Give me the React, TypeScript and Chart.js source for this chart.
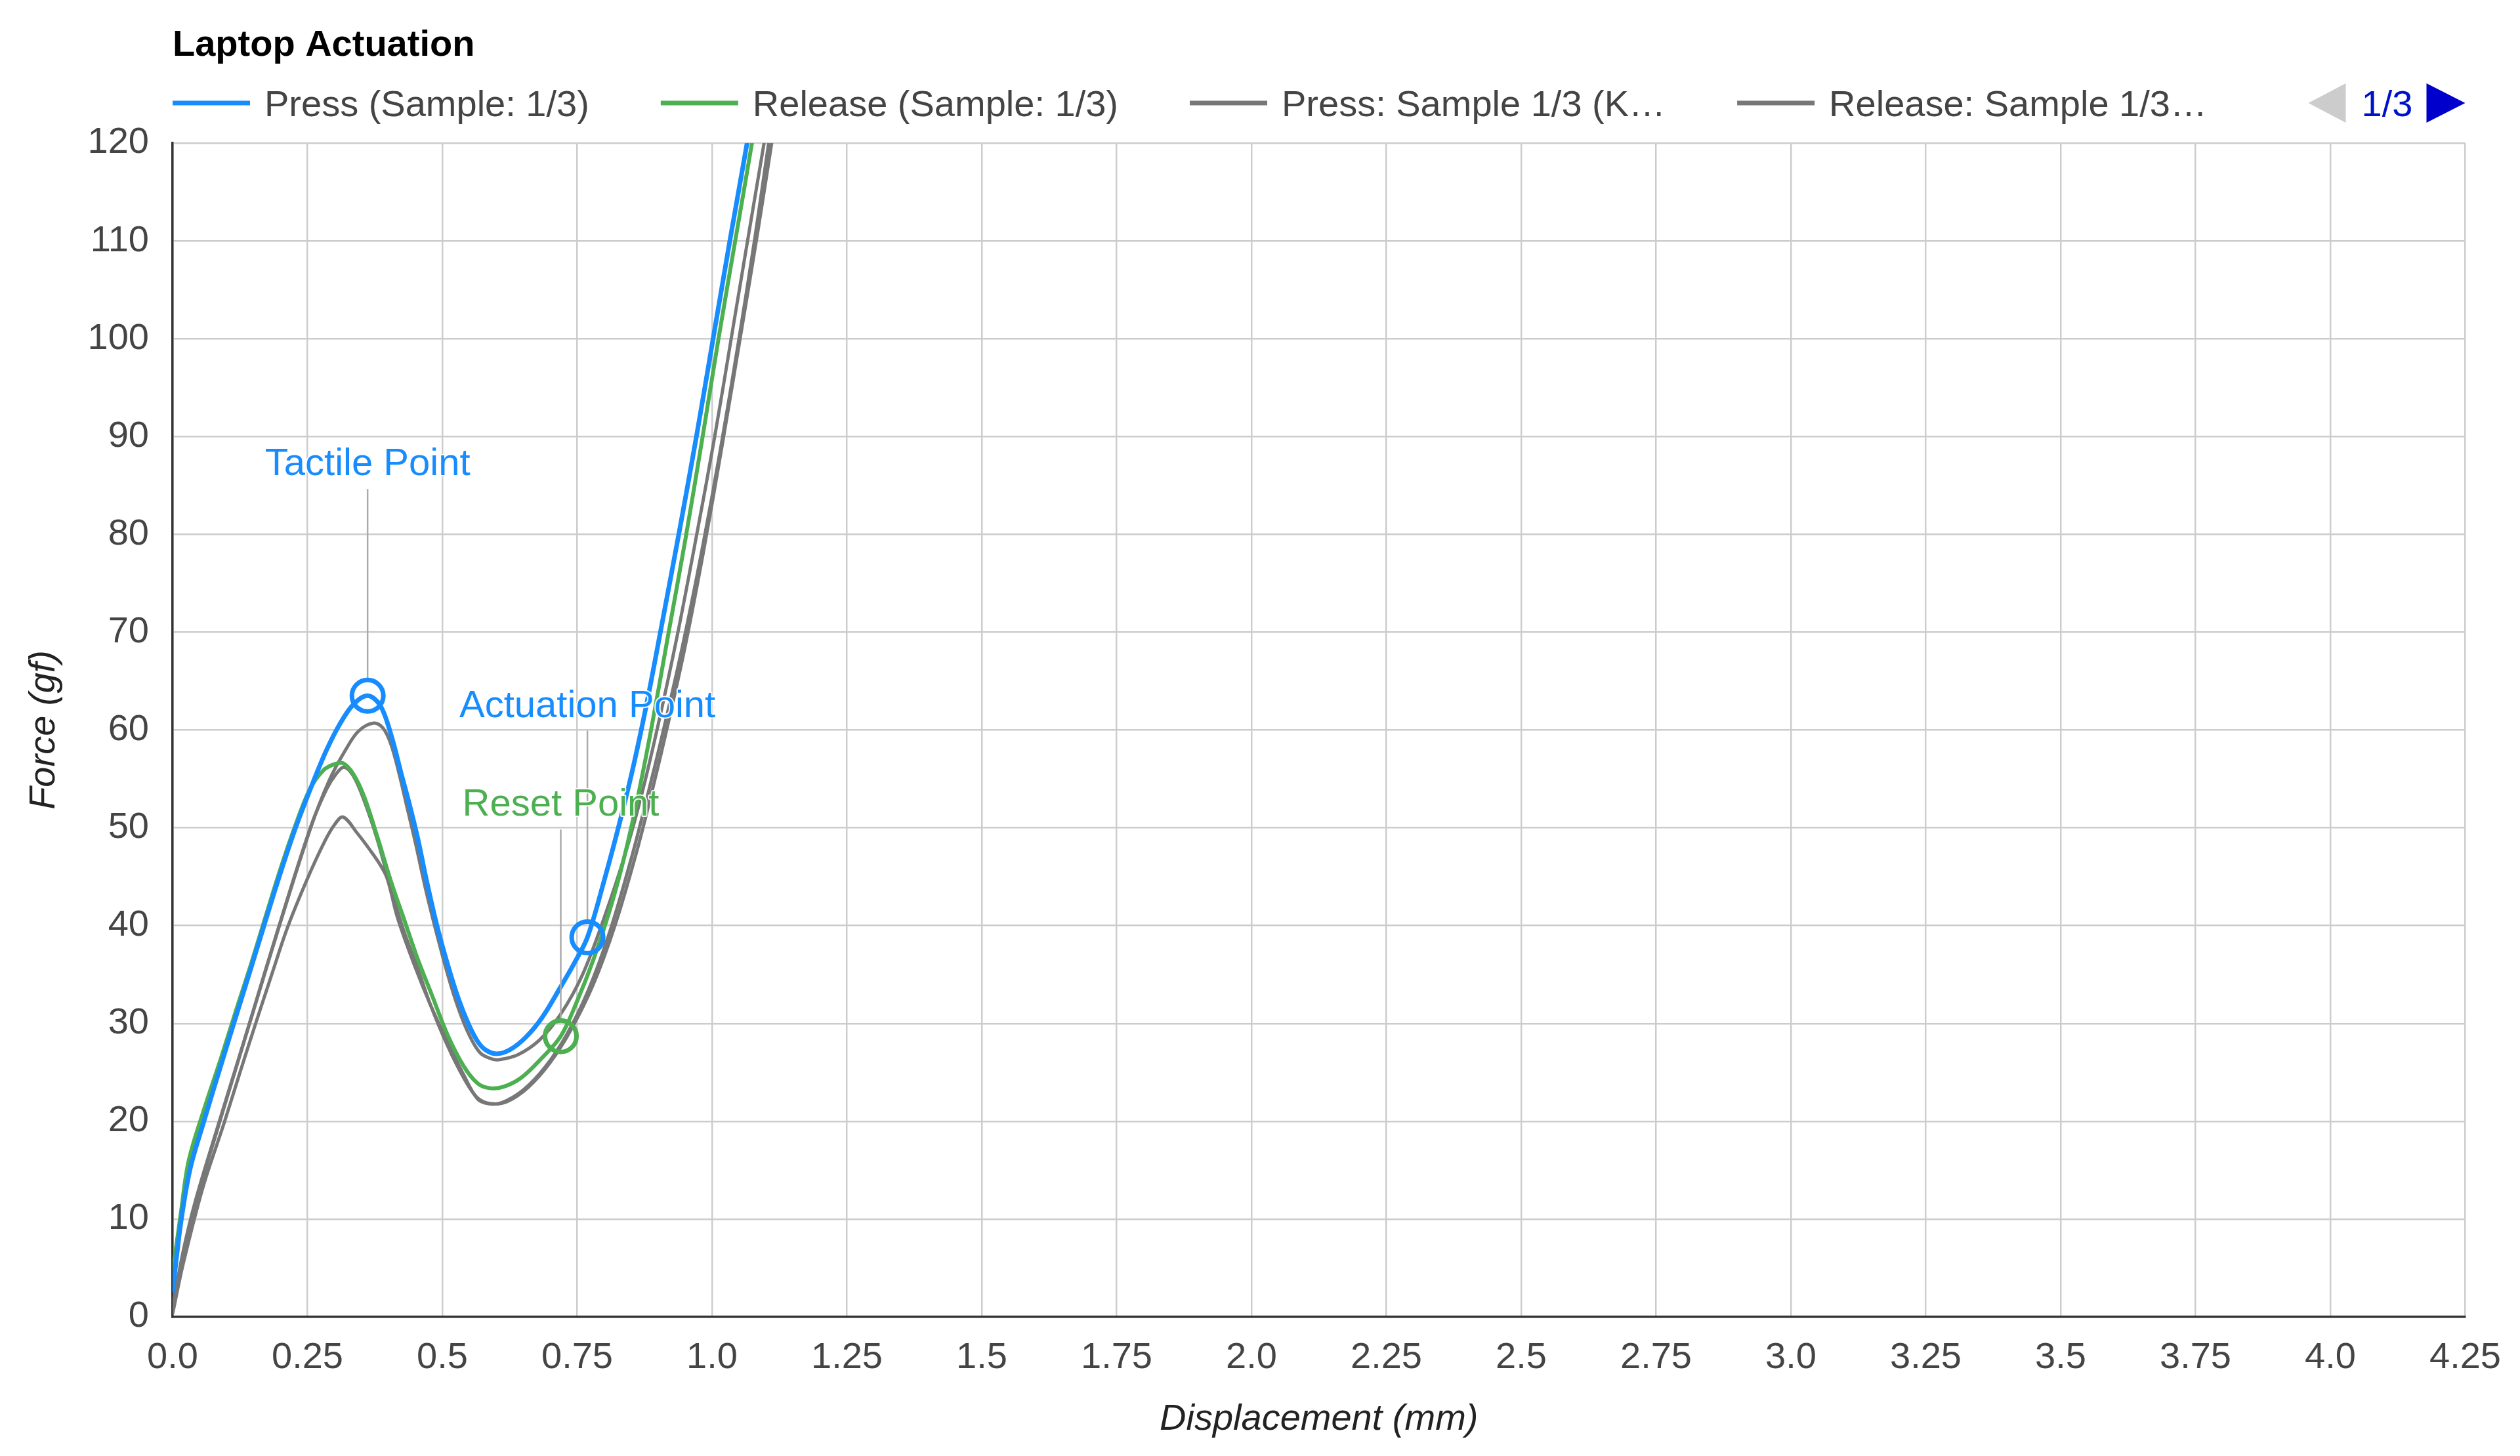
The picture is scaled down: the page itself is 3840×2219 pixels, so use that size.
import { useEffect, useRef } from 'react';
import { Chart, registerables } from 'chart.js';

Chart.register(...registerables);

const FONT = '"Liberation Sans", Arial, Helvetica, sans-serif';

const chartTitle = 'Laptop Actuation';
const xAxisTitle = 'Displacement (mm)';
const yAxisTitle = 'Force (gf)';
const legendPageText = '1/3';

const xTickLabels = ['0.0', '0.25', '0.5', '0.75', '1.0', '1.25', '1.5', '1.75', '2.0', '2.25', '2.5', '2.75', '3.0', '3.25', '3.5', '3.75', '4.0', '4.25'];

const seriesLabels = ['Press (Sample: 1/3)', 'Release (Sample: 1/3)', 'Press: Sample 1/3 (K…', 'Release: Sample 1/3…', 'Release: Sample 2/3…'];
const seriesColors = ['#168cff', '#4caf50', '#777777', '#777777', '#777777'];
const seriesWidths = [7, 6, 5, 5, 5];

const pressX = [0, 0.015, 0.032, 0.057, 0.09, 0.118, 0.145, 0.17, 0.2, 0.228, 0.26, 0.285, 0.31, 0.335, 0.3615, 0.385, 0.405, 0.425, 0.44, 0.455, 0.47, 0.49, 0.51, 0.53, 0.548, 0.565, 0.58, 0.6, 0.625, 0.655, 0.685, 0.72, 0.745, 0.769, 0.8, 0.83, 0.855, 0.88, 0.906, 0.94, 0.972, 1.002, 1.033, 1.065, 1.09];
const pressY = [2.5, 9.5, 15, 19.8, 25.8, 30.8, 35.6, 40.1, 45.4, 50, 54.6, 57.9, 60.6, 62.6, 63.5, 62.5, 59.5, 55.3, 52.2, 48.8, 44.8, 40, 36, 32.5, 30, 28.2, 27.3, 26.9, 27.3, 28.6, 30.6, 33.8, 36.2, 38.8, 44.6, 50.8, 56.5, 63, 70.5, 80.5, 90.3, 100, 110, 120, 128];

const releaseX = [0, 0.015, 0.03, 0.06, 0.09, 0.118, 0.145, 0.17, 0.2, 0.228, 0.255, 0.28, 0.3, 0.316, 0.335, 0.355, 0.38, 0.405, 0.43, 0.455, 0.48, 0.51, 0.54, 0.565, 0.586, 0.612, 0.645, 0.68, 0.7196, 0.75, 0.78, 0.81, 0.835, 0.86, 0.888, 0.918, 0.951, 0.982, 1.012, 1.043, 1.074, 1.097];
const releaseY = [4.5, 10.5, 16, 21.5, 26.5, 31.4, 36, 40.5, 45.8, 50.3, 54, 55.9, 56.5, 56.6, 55.5, 53.2, 49, 44.5, 40.5, 36.5, 33, 28.8, 25.6, 23.9, 23.4, 23.5, 24.4, 26.2, 28.7, 32.3, 36.5, 41.5, 46.5, 52.5, 60.3, 69.5, 79.6, 89.8, 100, 110, 120, 128];

const grayPressX = [0, 0.02, 0.041, 0.085, 0.118, 0.15, 0.198, 0.256, 0.29, 0.32, 0.345, 0.373, 0.39, 0.405, 0.42, 0.435, 0.45, 0.47, 0.488, 0.51, 0.53, 0.55, 0.57, 0.59, 0.605, 0.64, 0.68, 0.72, 0.76, 0.8, 0.84, 0.87, 0.9, 0.935, 0.97, 1.005, 1.04, 1.075, 1.098, 1.12];
const grayPressY = [0.5, 6.3, 11.3, 19.5, 25.5, 31.3, 40, 50, 54.8, 57.9, 59.9, 60.7, 60.2, 58.5, 55.5, 52, 48.5, 43.5, 39.5, 35, 31.5, 28.8, 27, 26.4, 26.3, 26.8, 28.3, 31, 35, 40.8, 47.5, 53.5, 60.5, 69.5, 79.5, 90, 101.5, 113, 120.5, 128];

const grayRelease1X = [0, 0.02, 0.041, 0.085, 0.118, 0.15, 0.198, 0.256, 0.285, 0.303, 0.318, 0.335, 0.355, 0.38, 0.404, 0.429, 0.454, 0.478, 0.509, 0.54, 0.565, 0.59, 0.62, 0.66, 0.7, 0.74, 0.78, 0.82, 0.86, 0.89, 0.92, 0.95, 0.985, 1.02, 1.055, 1.085, 1.112, 1.13];
const grayRelease1Y = [1, 6.8, 11.6, 19.7, 25.6, 31.4, 40.1, 50.1, 53.9, 55.5, 56.2, 55.3, 52.8, 48.7, 43.9, 39.4, 35.7, 31.9, 27.8, 24.4, 22.4, 21.8, 22, 23.5, 26, 29.5, 34, 40, 47.5, 54, 61, 68.5, 78.5, 89.5, 101, 111, 120.5, 127];

const grayRelease2X = [0, 0.02, 0.056, 0.096, 0.125, 0.154, 0.185, 0.213, 0.25, 0.281, 0.3, 0.316, 0.343, 0.365, 0.385, 0.398, 0.417, 0.448, 0.478, 0.509, 0.54, 0.565, 0.585, 0.61, 0.65, 0.69, 0.73, 0.77, 0.81, 0.85, 0.88, 0.91, 0.945, 0.98, 1.015, 1.05, 1.08, 1.105, 1.125];
const grayRelease2Y = [0.3, 5.5, 13.2, 19.9, 25, 30, 35.2, 39.8, 44.8, 48.5, 50.3, 51.1, 49.4, 47.8, 46.2, 44.8, 40.8, 36, 31.9, 28.2, 24.7, 22.3, 21.8, 21.9, 23.2, 25.5, 28.8, 33.3, 39.3, 46.8, 53.2, 60, 68.5, 78, 88.5, 100, 110.5, 120, 127];

const annotationLabels = ['Tactile Point', 'Actuation Point', 'Reset Point'];
const annotationX = [0.3615, 0.769, 0.7196];
const annotationY = [63.5, 38.8, 28.7];
const annotationColors = ['#168cff', '#168cff', '#4caf50'];

const seriesX = [pressX, releaseX, grayPressX, grayRelease1X, grayRelease2X];
const seriesY = [pressY, releaseY, grayPressY, grayRelease1Y, grayRelease2Y];
const LEGEND_COUNT = 4;

const overlayPlugin = {
  id: 'overlay',
  afterDatasetsDraw(chart: any) {
    const ctx = chart.ctx as CanvasRenderingContext2D;
    const xs = chart.scales.x;
    const ys = chart.scales.y;
    annotationLabels.forEach((label, i) => {
      const px = xs.getPixelForValue(annotationX[i]);
      const py = ys.getPixelForValue(annotationY[i]);
      const ty = py - 352;
      const color = annotationColors[i];
      ctx.save();
      ctx.strokeStyle = '#aaaaaa';
      ctx.lineWidth = 2.5;
      ctx.beginPath();
      ctx.moveTo(px, ty + 37);
      ctx.lineTo(px, py - 27);
      ctx.stroke();
      ctx.strokeStyle = color;
      ctx.lineWidth = 7;
      ctx.beginPath();
      ctx.arc(px, py, 24, 0, Math.PI * 2);
      ctx.stroke();
      ctx.font = `58px ${FONT}`;
      ctx.textAlign = 'center';
      ctx.textBaseline = 'middle';
      ctx.lineJoin = 'round';
      ctx.lineWidth = 4;
      ctx.strokeStyle = 'rgba(255,255,255,0.9)';
      ctx.strokeText(label, px, ty);
      ctx.fillStyle = color;
      ctx.fillText(label, px, ty);
      ctx.restore();
    });
  },
  afterDraw(chart: any) {
    const ctx = chart.ctx as CanvasRenderingContext2D;
    const area = chart.chartArea;
    ctx.save();
    ctx.font = `bold 56px ${FONT}`;
    ctx.fillStyle = '#000000';
    ctx.textAlign = 'left';
    ctx.textBaseline = 'alphabetic';
    ctx.fillText(chartTitle, area.left, 85);
    ctx.font = `56px ${FONT}`;
    let lx = area.left;
    const ly = 157;
    for (let i = 0; i < LEGEND_COUNT; i++) {
      ctx.strokeStyle = seriesColors[i];
      ctx.lineWidth = 7;
      ctx.beginPath();
      ctx.moveTo(lx, ly);
      ctx.lineTo(lx + 118, ly);
      ctx.stroke();
      ctx.fillStyle = '#444444';
      ctx.fillText(seriesLabels[i], lx + 140, 177);
      lx += 140 + ctx.measureText(seriesLabels[i]).width + 109;
    }
    const r = area.right;
    ctx.fillStyle = '#cccccc';
    ctx.beginPath();
    ctx.moveTo(r - 239, ly);
    ctx.lineTo(r - 182, ly - 30);
    ctx.lineTo(r - 182, ly + 30);
    ctx.closePath();
    ctx.fill();
    ctx.fillStyle = '#0000cc';
    ctx.beginPath();
    ctx.moveTo(r, ly);
    ctx.lineTo(r - 59, ly - 30);
    ctx.lineTo(r - 59, ly + 30);
    ctx.closePath();
    ctx.fill();
    ctx.fillStyle = '#0011cc';
    ctx.textAlign = 'center';
    ctx.fillText(legendPageText, r - 119, 177);
    ctx.restore();
  },
};

export default function App() {
  const canvasRef = useRef<HTMLCanvasElement | null>(null);

  useEffect(() => {
    const canvas = canvasRef.current;
    if (!canvas) return;
    const datasets = seriesLabels.map((label, i) => ({
      label,
      data: seriesX[i].map((x, j) => ({ x, y: seriesY[i][j] })),
      borderColor: seriesColors[i],
      backgroundColor: seriesColors[i],
      borderWidth: seriesWidths[i],
      pointRadius: 0,
      tension: 0.35,
      fill: false,
    }));
    const chart = new Chart(canvas, {
      type: 'line',
      data: { datasets },
      options: {
        animation: false,
        responsive: false,
        events: [],
        layout: { padding: { top: 218, right: 83, left: 0, bottom: 0 } },
        plugins: {
          legend: { display: false },
          title: { display: false },
          tooltip: { enabled: false },
        },
        scales: {
          x: {
            type: 'linear',
            min: 0,
            max: 4.25,
            afterFit: (s: any) => { s.height = 212; },
            ticks: {
              stepSize: 0.25,
              autoSkip: false,
              maxRotation: 0,
              padding: 29,
              color: '#444444',
              font: { family: FONT, size: 56 },
              callback: (v: any) => xTickLabels[Math.round(Number(v) / 0.25)],
            },
            grid: { color: '#cccccc', lineWidth: 2.45, drawTicks: false },
            border: { color: '#333333', width: 3.5 },
            title: {
              display: true,
              text: xAxisTitle,
              color: '#222222',
              font: { family: FONT, size: 56, style: 'italic' },
              padding: { top: 0, bottom: 22 },
            },
          },
          y: {
            type: 'linear',
            min: 0,
            max: 120,
            afterFit: (s: any) => { s.width = 263; },
            ticks: {
              stepSize: 10,
              padding: 36,
              color: '#444444',
              font: { family: FONT, size: 56 },
            },
            grid: { color: '#cccccc', lineWidth: 2.45, drawTicks: false },
            border: { color: '#333333', width: 3.5 },
            title: {
              display: true,
              text: yAxisTitle,
              color: '#222222',
              font: { family: FONT, size: 56, style: 'italic' },
              padding: { top: 34, bottom: 0 },
            },
          },
        },
      } as any,
      plugins: [overlayPlugin],
    });
    return () => chart.destroy();
  }, []);

  return (
    <div style={{ position: 'fixed', left: 0, top: 0, width: 3840, height: 2219, background: '#ffffff' }}>
      <canvas ref={canvasRef} width={3840} height={2219} style={{ display: 'block', width: 3840, height: 2219 }} />
    </div>
  );
}
